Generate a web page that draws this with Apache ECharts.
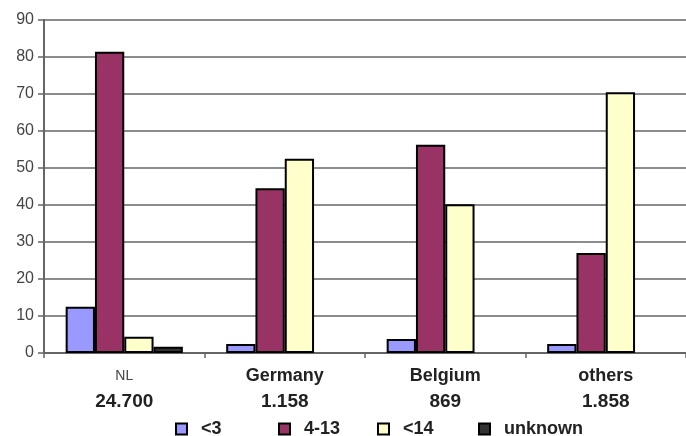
<!DOCTYPE html>
<html>
<head>
<meta charset="utf-8">
<script src="https://cdn.jsdelivr.net/npm/echarts@6/dist/echarts.min.js"></script>
<style>
html,body{margin:0;padding:0;background:#fff;}
#c{width:686px;height:436px;}
</style>
</head>
<body>
<div id="c"></div>
<script>
const categories = ['NL', 'Germany', 'Belgium', 'others'];
const counts = ['24.700', '1.158', '869', '1.858'];
const seriesNames = ['<3', '4-13', '<14', 'unknown'];
const valsUnder3 = [12.5, 2.4, 3.8, 2.4];
const vals4to13 = [81.4, 44.5, 56.3, 27.0];
const valsUnder14 = [4.4, 52.5, 40.2, 70.5];
const valsUnknown = [1.7, null, null, null];
const yTicks = { min: 0, max: 90, interval: 10 };

const colors = ['#9999ff', '#993366', '#ffffcc', '#333333'];
const allVals = [valsUnder3, vals4to13, valsUnder14, valsUnknown];
const FONT = '"Liberation Sans", Arial, sans-serif';

const chart = echarts.init(document.getElementById('c'), null, {renderer: 'canvas'});

const legendLefts = [170, 273, 372, 473];
const legends = seriesNames.map((n, i) => ({
  data: [{ name: n, icon: 'rect' }],
  left: legendLefts[i],
  top: 415,
  orient: 'horizontal',
  itemWidth: 11,
  itemHeight: 11,
  itemStyle: { borderColor: '#000', borderWidth: 2 },
  textStyle: { fontFamily: FONT, fontSize: 18, fontWeight: 'bold', color: '#222', padding: [0, 0, 0, 9] },
  selectedMode: false
}));

chart.setOption({
  animation: false,
  backgroundColor: '#fff',
  legend: legends,
  grid: { left: 44, right: 0, top: 20, bottom: 83, containLabel: false },
  xAxis: {
    type: 'category',
    data: categories,
    axisLine: { lineStyle: { color: '#666', width: 2 } },
    axisTick: { show: true, length: 5, lineStyle: { color: '#666', width: 1.5 } },
    axisLabel: {
      margin: 11,
      interval: 0,
      formatter: function (v, i) {
        return (i === 0 ? '{nl|' + v + '}' : '{name|' + v + '}') + '\n{num|' + counts[i] + '}';
      },
      rich: {
        nl: { fontFamily: FONT, fontSize: 14, color: '#444', lineHeight: 25 },
        name: { fontFamily: FONT, fontSize: 18, fontWeight: 'bold', color: '#222', lineHeight: 25 },
        num: { fontFamily: FONT, fontSize: 19, fontWeight: 'bold', color: '#222', lineHeight: 25 }
      }
    }
  },
  yAxis: {
    type: 'value',
    min: yTicks.min, max: yTicks.max, interval: yTicks.interval,
    axisLine: { show: true, lineStyle: { color: '#666', width: 2 } },
    axisTick: { show: true, length: 6, lineStyle: { color: '#666', width: 1.5 } },
    axisLabel: { fontFamily: FONT, fontSize: 16, color: '#444', margin: 10 },
    splitLine: { lineStyle: { color: '#666', width: 1.5 } }
  },
  series: seriesNames.map((n, i) => ({
    name: n,
    type: 'bar',
    data: allVals[i],
    barGap: '0%',
    barCategoryGap: '27%',
    itemStyle: { color: colors[i], borderColor: '#000', borderWidth: 2 }
  }))
});
</script>
</body>
</html>
